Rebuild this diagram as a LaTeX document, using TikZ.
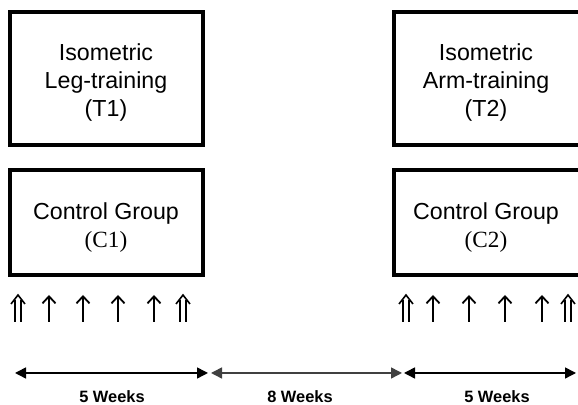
\documentclass[tikz,border=0pt]{standalone}
\usepackage{fontspec}
\setmainfont{Liberation Sans}
\newfontfamily\timesfont{Liberation Serif}
\usetikzlibrary{arrows.meta, positioning}
\tikzset{>=stealth}

\begin{document}
\begin{tikzpicture}[x=.5pt,y=.5pt,
        box/.style={draw, line width=2pt, inner sep=0pt},
        txt/.style={align=center, inner sep=0pt, font=\fontsize{11.6}{13.8}\selectfont},
        week/.style={font=\fontsize{8.2}{9.8}\selectfont\bfseries},
        span/.style={line width=.75pt, {Triangle[length=5.5pt,width=5.5pt]}-{Triangle[length=5.5pt,width=5.5pt]}},
        tick/.style={line width=.9pt, -{Straight Barb[length=3.5pt,width=6.5pt,line width=.9pt]}}]
        \useasboundingbox (0,0) rectangle (578,405);
        \clip (0,0) rectangle (578,405);
        % groups
        \node (t1) at (106.5,326.5)[box, minimum width=96.5pt, minimum height=66.5pt]{};
        \node (c1) at (106.5,182.5)[box, minimum width=96.5pt, minimum height=52.5pt]{};
        \node (t2) at (497,326.5)[box, minimum width=103pt, minimum height=66.5pt]{};
        \node (c2) at (497,182.5)[box, minimum width=103pt, minimum height=52.5pt]{};
        \node (t1text) at (106,322.5)[txt]{Isometric\\Leg-training\\(T1)};
        \node (c1text) at (106,177.5)[txt]{Control Group\\{\timesfont (C1)}};
        \node (t2text) at (486,322.5)[txt]{Isometric\\Arm-training\\(T2)};
        \node (c2text) at (486,177.5)[txt]{Control Group\\{\timesfont (C2)}};
        % test days
        \foreach \x in {49,83,118,154,433,469,505,542}
                \draw [tick](\x,83)--(\x,110);
        \foreach \x in {18,183,406,568}{
                \draw [line width=.7pt](\x-3,83)--(\x-3,105) (\x+3,83)--(\x+3,105);
                \draw [line width=.8pt, line join=miter](\x-7,101)--(\x,110)--(\x+7,101);
        }
        % time line
        \coordinate (l0) at (15,32);
        \coordinate (l1) at (208,32);
        \coordinate (m0) at (211,32);
        \coordinate (m1) at (402,32);
        \coordinate (r0) at (404,32);
        \coordinate (r1) at (576,32);
        \draw [span](l0)--(l1);
        \draw [span, draw=black!75](m0)--(m1);
        \draw [span](r0)--(r1);
        \node (w1) at (112,8)[week]{5 Weeks};
        \node (w2) at (300,8)[week]{8 Weeks};
        \node (w3) at (497,8)[week]{5 Weeks};
\end{tikzpicture}
\end{document}
